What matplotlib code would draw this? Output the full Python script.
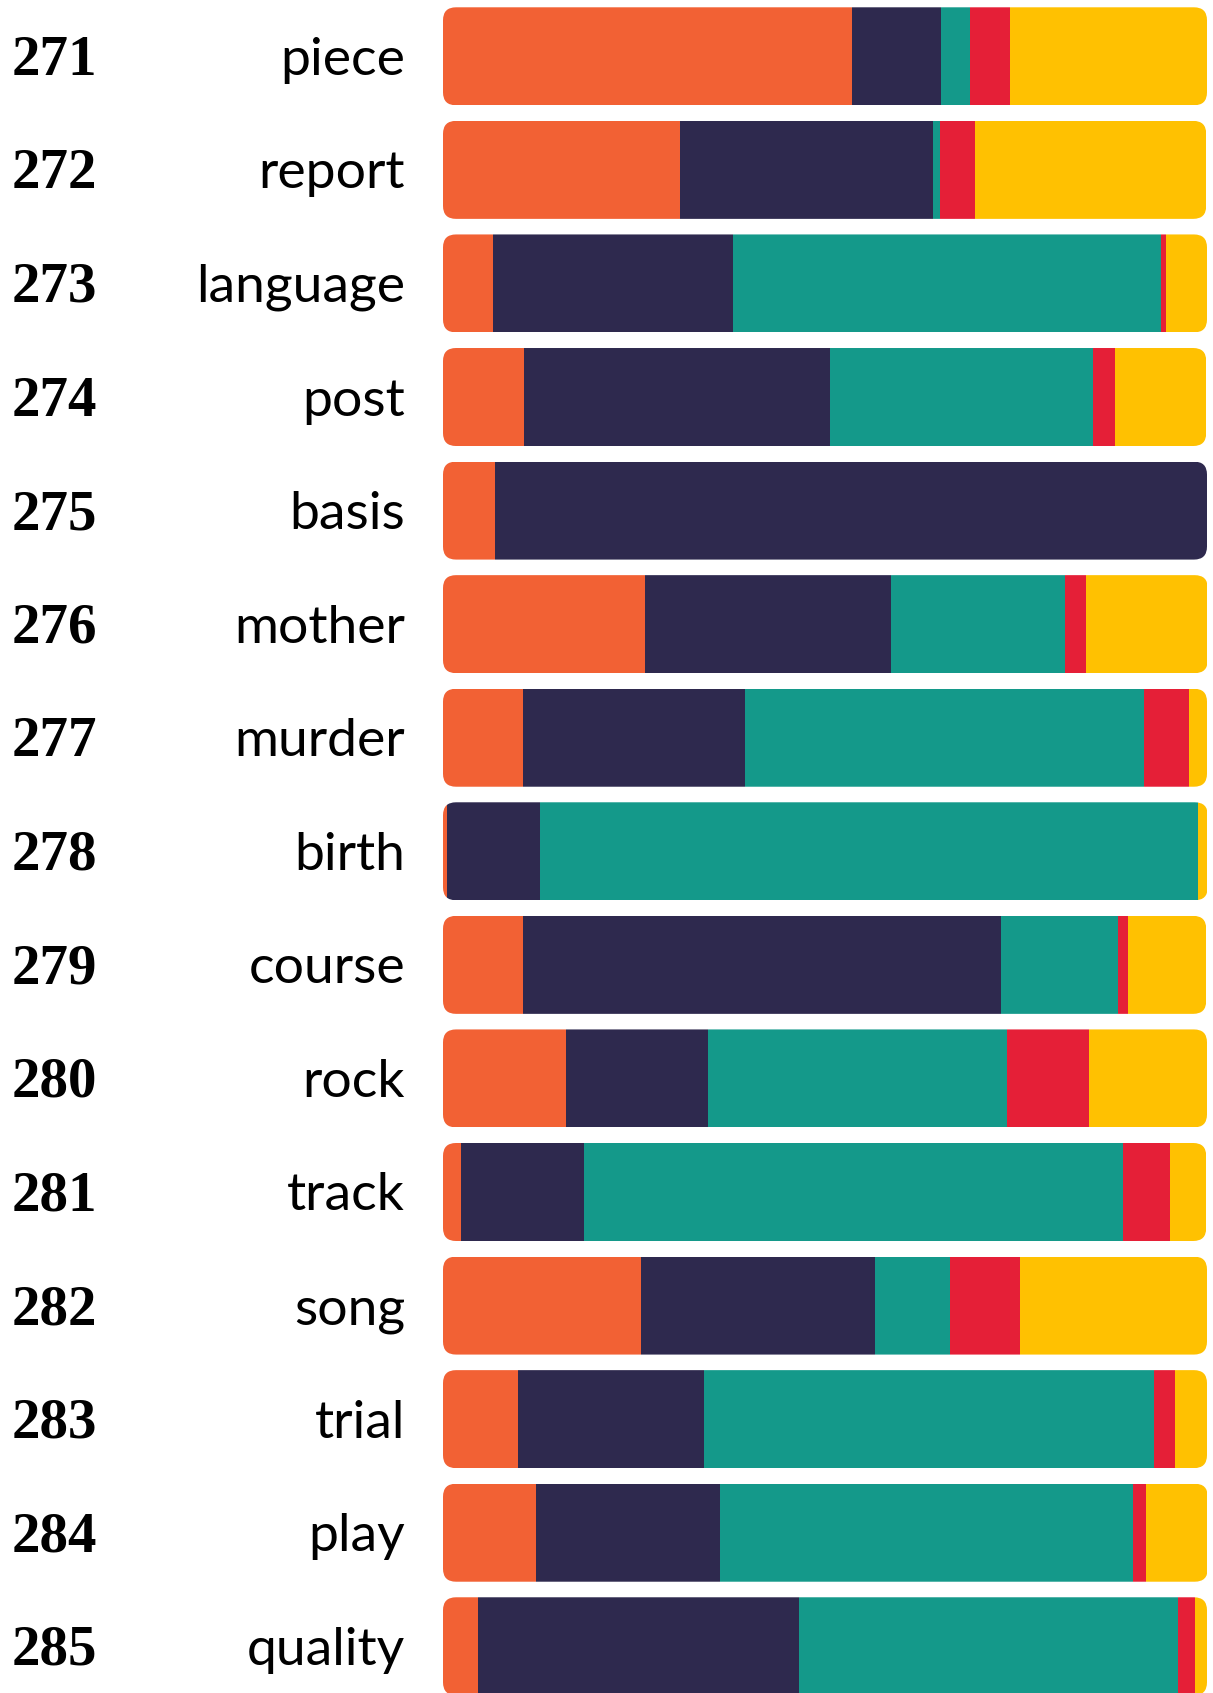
import numpy as np
import matplotlib.pyplot as plt
from matplotlib.patches import FancyBboxPatch

# ###############################################
ranks = ["271", "272", "273", "274", "275", "276", "277", "278",
         "279", "280", "281", "282", "283", "284", "285"]
words = ["piece", "report", "language", "post", "basis", "mother", "murder", "birth",
         "course", "rock", "track", "song", "trial", "play", "quality"]

orange = [0.535, 0.310, 0.065, 0.106, 0.068, 0.265, 0.105, 0.005, 0.105, 0.161, 0.024, 0.259, 0.098, 0.122, 0.046]
navy = [0.117, 0.331, 0.314, 0.401, 0.932, 0.322, 0.290, 0.122, 0.625, 0.186, 0.161, 0.307, 0.244, 0.241, 0.420]
teal = [0.038, 0.009, 0.561, 0.344, 0.000, 0.227, 0.523, 0.861, 0.153, 0.391, 0.705, 0.098, 0.589, 0.540, 0.496]
red = [0.052, 0.046, 0.006, 0.028, 0.000, 0.028, 0.059, 0.000, 0.013, 0.108, 0.062, 0.091, 0.027, 0.017, 0.022]
yellow = [0.258, 0.303, 0.054, 0.120, 0.000, 0.159, 0.023, 0.013, 0.103, 0.154, 0.047, 0.245, 0.042, 0.081, 0.016]

colors = ["#F26134", "#2E294E", "#14998A", "#E51F37", "#FFC101"]
# ###############################################

W, H = 1213, 1693
fig = plt.figure(figsize=(W / 100, H / 100), dpi=100)

x0, x1 = 443, 1207          # bar extent in pixels
pitch = 113.57              # row spacing in pixels
c0 = 56.3                   # centre of first row in pixels from top
bar_h = 98 / pitch

ax = fig.add_axes([x0 / W, 0, (x1 - x0) / W, 1])
ax.set_xlim(0, 1)
ax.set_ylim((H - c0) / pitch, -c0 / pitch)
ax.axis('off')

series = [orange, navy, teal, red, yellow]
n = len(words)
y = np.arange(n)
totals = np.sum(series, axis=0)

# rounded clip per row (rounding given in pixels, converted via aspect)
rad_px = 13
aspect = (1 / pitch) / (1 / (x1 - x0))
clips = []
for i in range(n):
    clip = FancyBboxPatch((0, i - bar_h / 2), totals[i], bar_h,
                          boxstyle="round,pad=0,rounding_size=%f" % (rad_px / (x1 - x0)),
                          mutation_aspect=aspect, transform=ax.transData,
                          facecolor='none', edgecolor='none')
    ax.add_patch(clip)
    clips.append(clip)

left = np.zeros(n)
for vals, col in zip(series, colors):
    bars = ax.barh(y, vals, left=left, height=bar_h, color=col, linewidth=0)
    for i, b in enumerate(bars):
        b.set_clip_path(clips[i])
    left += np.array(vals)

# labels
for i in range(n):
    fig.text(12 / W, 1 - (c0 + pitch * i + 18.5) / H, ranks[i],
             ha='left', va='baseline', fontsize=41, fontweight='bold',
             family='Liberation Serif', color='black')
    fig.text(405 / W, 1 - (c0 + pitch * i + 18.5) / H, words[i],
             ha='right', va='baseline', fontsize=38.5,
             family='Lato', color='black')

plt.savefig('out.png', dpi=100)
